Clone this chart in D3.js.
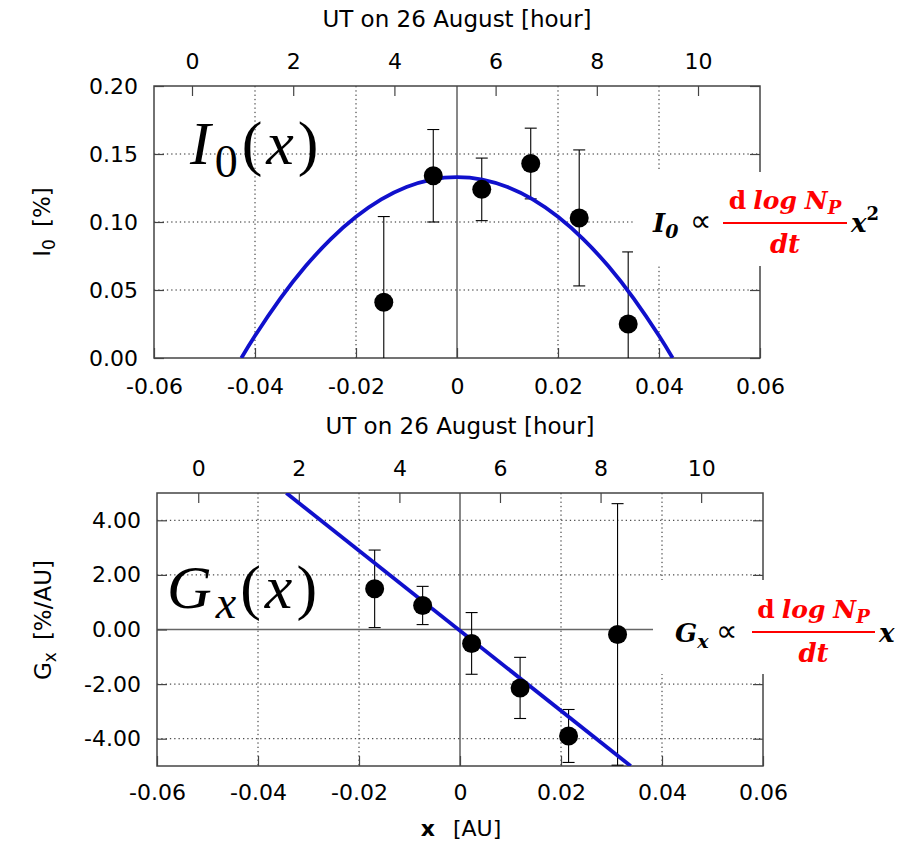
<!DOCTYPE html>
<html><head><meta charset="utf-8">
<script src="https://cdn.jsdelivr.net/npm/d3@7"></script>
<style>body{margin:0;background:#fff} svg{display:block}</style>
</head><body>
<svg id="chart" width="910" height="851"></svg>
<script>
// ---------------- data ----------------
const xTicks = [-0.06, -0.04, -0.02, 0, 0.02, 0.04, 0.06];
const hourTicks = [0, 2, 4, 6, 8, 10];
const hourTitle = "UT on 26 August [hour]";

// top panel: I0(x)
const i0X   = [-0.0145, -0.0047, 0.0049, 0.0146, 0.0242, 0.0339];
const i0Y   = [0.041, 0.134, 0.124, 0.143, 0.103, 0.025];
const i0Err = [0.063, 0.034, 0.023, 0.026, 0.050, 0.053];
const i0FitX = [-0.0427, -0.040, -0.035, -0.030, -0.025, -0.020, -0.015, -0.010, -0.005, 0.000,
                 0.005, 0.010, 0.015, 0.020, 0.025, 0.030, 0.035, 0.040, 0.0427];
const i0FitY = [0.000, 0.0163, 0.0436, 0.0674, 0.0874, 0.1038, 0.1166, 0.1257, 0.1312, 0.133,
                0.1312, 0.1257, 0.1166, 0.1038, 0.0874, 0.0674, 0.0436, 0.0163, 0.000];
const i0YTicks = [0, 0.05, 0.10, 0.15, 0.20];

// bottom panel: Gx(x)
const gxX   = [-0.0169, -0.0074, 0.0023, 0.0119, 0.0215, 0.0312];
const gxY   = [1.49, 0.88, -0.51, -2.14, -3.90, -0.18];
const gxErr = [1.42, 0.70, 1.13, 1.12, 0.97, 4.79];
const gxFitX = [-0.0344, 0.0338];
const gxFitY = [5.0, -5.0];
const gxYTicks = [-4, -2, 0, 2, 4];

// ---------------- drawing ----------------
const svg = d3.select("#chart");
svg.append("rect").attr("width", 910).attr("height", 851).attr("fill", "#fff");

const FONT = "DejaVu Sans";
const TICKFS = 22;
const fmtX = d => d === 0 ? "0" : d3.format(".2f")(d).replace("\u2212", "-");
const fmtY = d => d3.format(".2f")(d).replace("\u2212", "-");

function panel(cfg) {
  const {L, R, T, B} = cfg;
  const x = d3.scaleLinear().domain([-0.06, 0.06]).range([L, R]);
  const y = d3.scaleLinear().domain(cfg.yDomain).range([B, T]);
  const h = d3.scaleLinear().domain(cfg.hourDomain).range([L, R]);
  const g = svg.append("g");

  const clipId = "clip" + cfg.id;
  svg.append("clipPath").attr("id", clipId).append("rect")
    .attr("x", L).attr("y", T).attr("width", R - L).attr("height", B - T);

  // grid
  const grid = g.append("g").attr("stroke", "#222").attr("stroke-width", 1)
    .attr("stroke-dasharray", "1.3,3");
  grid.selectAll("line.v").data(xTicks.filter(d => d !== 0 && Math.abs(d) < 0.059))
    .join("line").attr("x1", d => x(d)).attr("x2", d => x(d)).attr("y1", T).attr("y2", B);
  grid.selectAll("line.h").data(cfg.yTicks.filter(d => d !== 0 && d > cfg.yDomain[0] && d < cfg.yDomain[1]))
    .join("line").attr("x1", L).attr("x2", R).attr("y1", d => y(d)).attr("y2", d => y(d));

  // zero axes
  g.append("line").attr("x1", x(0)).attr("x2", x(0)).attr("y1", T).attr("y2", B)
    .attr("stroke", "#111").attr("stroke-width", 1);
  if (cfg.yDomain[0] < 0) {
    g.append("line").attr("x1", L).attr("x2", R).attr("y1", y(0)).attr("y2", y(0))
      .attr("stroke", "#666").attr("stroke-width", 1.5);
  }

  // axes
  const styleAxis = sel => {
    sel.select(".domain").remove();
    sel.selectAll(".tick line").attr("stroke", "#444").attr("stroke-width", 1.2);
    sel.selectAll(".tick text").attr("fill", "#000").attr("font-family", FONT).attr("font-size", TICKFS);
  };
  g.append("g").attr("transform", `translate(0,${B})`)
    .call(d3.axisBottom(x).tickValues(xTicks).tickFormat(fmtX).tickSize(-10).tickPadding(cfg.xPad))
    .call(styleAxis);
  g.append("g").attr("transform", `translate(${L},0)`)
    .call(d3.axisLeft(y).tickValues(cfg.yTicks).tickFormat(fmtY).tickSize(-10).tickPadding(16))
    .call(styleAxis);
  g.append("g").attr("transform", `translate(${R},0)`)
    .call(d3.axisRight(y).tickValues(cfg.yTicks).tickFormat("").tickSize(-10))
    .call(styleAxis);
  g.append("g").attr("transform", `translate(0,${T})`)
    .call(d3.axisTop(h).tickValues(hourTicks).tickFormat(d3.format("d")).tickSize(-10).tickPadding(17))
    .call(styleAxis);

  // border
  g.append("rect").attr("x", L).attr("y", T).attr("width", R - L).attr("height", B - T)
    .attr("fill", "none").attr("stroke", "#444").attr("stroke-width", 1.5);

  // hour axis title
  g.append("text").attr("x", cfg.titleX).attr("y", cfg.titleY).attr("text-anchor", "middle")
    .attr("font-family", FONT).attr("font-size", 23).text(hourTitle);

  // data layer (clipped)
  const data = g.append("g").attr("clip-path", `url(#${clipId})`);
  const pts = cfg.X.map((d, i) => ({x: d, y: cfg.Y[i], e: cfg.E[i]}));
  const eb = data.append("g").attr("stroke", "#000").attr("stroke-width", 1.1);
  eb.selectAll("line.bar").data(pts).join("line")
    .attr("x1", d => x(d.x)).attr("x2", d => x(d.x))
    .attr("y1", d => y(d.y + d.e)).attr("y2", d => y(d.y - d.e));
  eb.selectAll("line.capTop").data(pts).join("line")
    .attr("x1", d => x(d.x) - 6).attr("x2", d => x(d.x) + 6)
    .attr("y1", d => y(d.y + d.e)).attr("y2", d => y(d.y + d.e));
  eb.selectAll("line.capBot").data(pts).join("line")
    .attr("x1", d => x(d.x) - 6).attr("x2", d => x(d.x) + 6)
    .attr("y1", d => y(d.y - d.e)).attr("y2", d => y(d.y - d.e));

  const fit = cfg.FX.map((d, i) => [d, cfg.FY[i]]);
  data.append("path").datum(fit)
    .attr("d", d3.line().x(d => x(d[0])).y(d => y(d[1])).curve(d3.curveNatural))
    .attr("fill", "none").attr("stroke", "#1010cc").attr("stroke-width", 3.8);

  data.selectAll("circle").data(pts).join("circle")
    .attr("cx", d => x(d.x)).attr("cy", d => y(d.y)).attr("r", 9.5).attr("fill", "#000");

  return {x, y};
}

panel({id: "top", L: 154, R: 760, T: 86, B: 358, yDomain: [0, 0.2], hourDomain: [-0.751, 11.225],
  yTicks: i0YTicks, X: i0X, Y: i0Y, E: i0Err, FX: i0FitX, FY: i0FitY, xPad: 20, titleX: 457, titleY: 27});
panel({id: "bot", L: 157, R: 763, T: 493, B: 766, yDomain: [-5, 5], hourDomain: [-0.82, 11.23],
  yTicks: gxYTicks, X: gxX, Y: gxY, E: gxErr, FX: gxFitX, FY: gxFitY, xPad: 18, titleX: 460, titleY: 434});

// axis labels
const yl1 = svg.append("text").attr("transform", "translate(50,222) rotate(-90)")
  .attr("text-anchor", "middle").attr("font-family", FONT).attr("font-size", 23);
yl1.append("tspan").text("I");
yl1.append("tspan").attr("font-size", 17).attr("dy", 5).text("0");
yl1.append("tspan").attr("dy", -5).attr("dx", 12).text("[%]");

const yl2 = svg.append("text").attr("transform", "translate(51,620) rotate(-90)")
  .attr("text-anchor", "middle").attr("font-family", FONT).attr("font-size", 23);
yl2.append("tspan").text("G");
yl2.append("tspan").attr("font-size", 17).attr("dy", 5).text("x");
yl2.append("tspan").attr("dy", -5).attr("dx", 12).text("[%/AU]");

const xl = svg.append("text").attr("x", 461).attr("y", 836).attr("text-anchor", "middle")
  .attr("font-family", FONT).attr("font-size", 22);
xl.append("tspan").attr("font-weight", "bold").text("x");
xl.append("tspan").attr("dx", 18).text("[AU]");

// big panel labels
const SERIF = "Liberation Serif";
const b1 = svg.append("text").attr("x", 190).attr("y", 164).attr("font-family", SERIF)
  .attr("font-size", 62).attr("letter-spacing", 4);
b1.append("tspan").attr("font-style", "italic").text("I");
b1.append("tspan").attr("font-size", 46).attr("dy", 13).text("0");
b1.append("tspan").attr("dy", -13).text("(");
b1.append("tspan").attr("font-style", "italic").text("x");
b1.append("tspan").text(")");

const b2 = svg.append("text").attr("x", 167).attr("y", 608).attr("font-family", SERIF)
  .attr("font-size", 62).attr("letter-spacing", 4);
b2.append("tspan").attr("font-style", "italic").text("G");
b2.append("tspan").attr("font-style", "italic").attr("font-size", 46).attr("dy", 10).text("x");
b2.append("tspan").attr("dy", -10).text("(");
b2.append("tspan").attr("font-style", "italic").text("x");
b2.append("tspan").text(")");

// formulas (with white backing)
const MF = "DejaVu Serif";
function formula(o) {
  svg.append("rect").attr("x", o.bx).attr("y", o.by).attr("width", 910 - o.bx).attr("height", o.bh)
    .attr("fill", "#fff");
  const lhs = svg.append("text").attr("x", o.lx).attr("y", o.base).attr("font-family", MF)
    .attr("font-size", 26).attr("font-weight", "bold").attr("font-style", "italic");
  lhs.append("tspan").text(o.sym);
  lhs.append("tspan").attr("font-size", 19).attr("dy", 6).text(o.sub);
  svg.append("text").attr("x", o.px).attr("y", o.base - 1).attr("font-family", "DejaVu Sans")
    .attr("font-size", 30).text("\u221D");
  svg.append("line").attr("x1", o.f1).attr("x2", o.f2).attr("y1", o.fy).attr("y2", o.fy)
    .attr("stroke", "#ff0000").attr("stroke-width", 2.2);
  const cx = (o.f1 + o.f2) / 2;
  const num = svg.append("text").attr("x", cx).attr("y", o.fy - 14).attr("text-anchor", "middle")
    .attr("font-family", MF).attr("font-size", 25).attr("font-weight", "bold").attr("fill", "#ff0000");
  num.append("tspan").text("d");
  num.append("tspan").attr("dx", 7).attr("font-style", "italic").text("log");
  num.append("tspan").attr("dx", 8).attr("font-style", "italic").text("N");
  num.append("tspan").attr("font-style", "italic").attr("font-size", 18).attr("dy", 5).text("P");
  svg.append("text").attr("x", cx).attr("y", o.fy + 30).attr("text-anchor", "middle")
    .attr("font-family", MF).attr("font-size", 26).attr("font-weight", "bold")
    .attr("font-style", "italic").attr("fill", "#ff0000").text("dt");
  const rhs = svg.append("text").attr("x", o.f2 + 4).attr("y", o.base).attr("font-family", MF)
    .attr("font-size", 26).attr("font-weight", "bold").attr("font-style", "italic");
  rhs.append("tspan").text("x");
  if (o.sup) rhs.append("tspan").attr("font-size", 18).attr("dy", -12).attr("font-style", "normal").text(o.sup);
}
formula({bx: 633, by: 172, bh: 94, lx: 653, base: 232, sym: "I", sub: "0", px: 690,
  f1: 723, f2: 847, fy: 223, sup: "2"});
formula({bx: 653, by: 580, bh: 94, lx: 675, base: 642, sym: "G", sub: "x", px: 716,
  f1: 752, f2: 875, fy: 632, sup: null});
</script>
</body></html>
